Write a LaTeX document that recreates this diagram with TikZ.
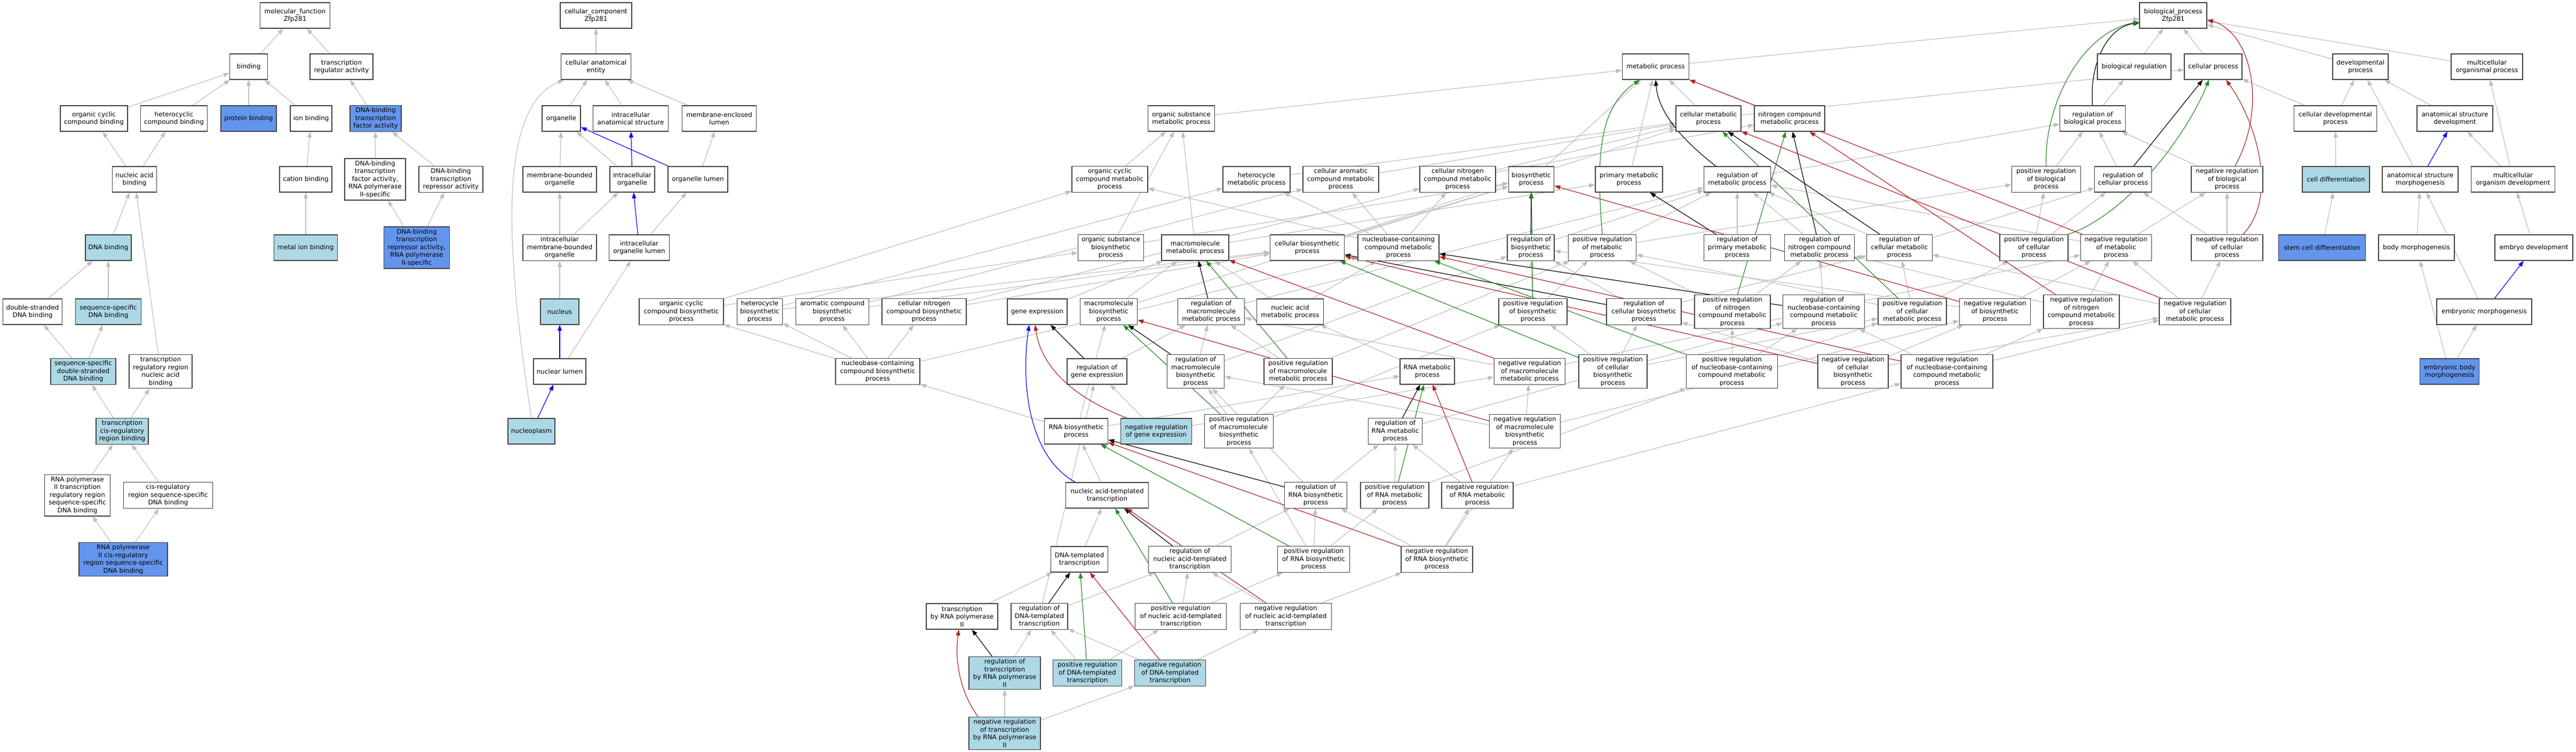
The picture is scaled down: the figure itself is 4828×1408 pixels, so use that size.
\documentclass[tikz,border=0pt]{standalone}
\usepackage{fontspec}
\setmainfont{DejaVu Sans}
\usetikzlibrary{arrows.meta,backgrounds}
\definecolor{lightblue}{HTML}{ADD8E6}
\definecolor{cornflower}{HTML}{6495ED}
\definecolor{edgegray}{HTML}{BEBEBE}
\definecolor{negred}{HTML}{B22222}
\definecolor{posgreen}{HTML}{228B22}
\newcommand{\gofont}{\fontsize{12}{14.5}\selectfont}
\newcommand{\gonode}[6]{\node[#1, minimum width=#5pt] (#2) at (#3,#4) {#6};}
\begin{document}
\begin{tikzpicture}[x=1pt,y=-1pt,
 go/.style={draw=black!75, line width=1.4pt, fill=white, align=center, font=\gofont, inner xsep=1pt, inner ysep=4pt, minimum height=48pt},
 lb/.style={go, fill=lightblue},
 cb/.style={go, fill=cornflower},
 edgebase/.style={line width=1.2pt, -{Triangle[length=11pt,width=8pt]}},
 gedge/.style={edgebase, draw=edgegray},
 bedge/.style={edgebase, draw=blue},
 kedge/.style={edgebase, draw=black},
 pedge/.style={edgebase, draw=posgreen},
 nedge/.style={edgebase, draw=negred}]
\useasboundingbox (0,0) rectangle (4828,1408);
% ---------------- molecular function ----------------
\gonode{go}{mf}{553}{29}{131}{molecular\_function\\Zfp281}
\gonode{go}{binding}{466}{125}{71}{binding}
\gonode{go}{tra}{640}{125}{118}{transcription\\regulator activity}
\gonode{go}{occb}{176}{222}{126}{organic cyclic\\compound binding}
\gonode{go}{hcb}{326}{222}{125}{heterocyclic\\compound binding}
\gonode{cb}{protb}{466}{222}{104}{protein binding}
\gonode{go}{ionb}{583}{222}{78}{ion binding}
\gonode{cb}{dbtfa}{704}{222}{96}{DNA-binding\\transcription\\factor activity}
\gonode{go}{nab}{252}{336}{83}{nucleic acid\\binding}
\gonode{go}{catb}{573}{336}{98}{cation binding}
\gonode{go}{dbtfa2}{703}{336}{114}{DNA-binding\\transcription\\factor activity,\\RNA polymerase\\II-specific}
\gonode{go}{dbtra}{845}{336}{120}{DNA-binding\\transcription\\repressor activity}
\gonode{lb}{dnab}{203}{464}{86}{DNA binding}
\gonode{lb}{mib}{573}{464}{119}{metal ion binding}
\gonode{cb}{dbtra2}{781}{464}{123}{DNA-binding\\transcription\\repressor activity,\\RNA polymerase\\II-specific}
\gonode{go}{dsdb}{61}{584}{111}{double-stranded\\DNA binding}
\gonode{lb}{ssdb}{203}{584}{123}{sequence-specific\\DNA binding}
\gonode{lb}{ssdsdb}{156}{696}{122}{sequence-specific\\double-stranded\\DNA binding}
\gonode{go}{trrnab}{301}{696}{118}{transcription\\regulatory region\\nucleic acid\\binding}
\gonode{lb}{tcrrb}{229}{808}{98}{transcription\\cis-regulatory\\region binding}
\gonode{go}{rptrr}{145}{928}{123}{RNA polymerase\\II transcription\\regulatory region\\sequence-specific\\DNA binding}
\gonode{go}{crrssdb}{315}{928}{167}{cis-regulatory\\region sequence-specific\\DNA binding}
\gonode{cb}{rpcrr}{231}{1048}{166}{RNA polymerase\\II cis-regulatory\\region sequence-specific\\DNA binding}
% ---------------- cellular component ----------------
\gonode{go}{cc}{1117}{29}{134}{cellular\_component\\Zfp281}
\gonode{go}{cae}{1117}{125}{131}{cellular anatomical\\entity}
\gonode{go}{org}{1052}{222}{72}{organelle}
\gonode{go}{ias}{1182}{222}{141}{intracellular\\anatomical structure}
\gonode{go}{mel}{1348}{222}{139}{membrane-enclosed\\lumen}
\gonode{go}{mbo}{1049}{336}{138}{membrane-bounded\\organelle}
\gonode{go}{io}{1185}{336}{84}{intracellular\\organelle}
\gonode{go}{ol}{1308}{336}{112}{organelle lumen}
\gonode{go}{imbo}{1049}{464}{138}{intracellular\\membrane-bounded\\organelle}
\gonode{go}{iol}{1198}{464}{113}{intracellular\\organelle lumen}
\gonode{lb}{nuc}{1049}{584}{72}{nucleus}
\gonode{go}{nl}{1049}{696}{98}{nuclear lumen}
\gonode{lb}{npl}{996}{808}{88}{nucleoplasm}
% ---------------- biological process ----------------
\gonode{go}{bp}{4073}{29}{126}{biological\_process\\Zfp281}
\gonode{go}{mp}{3103}{125}{125}{metabolic process}
\gonode{go}{breg}{4000}{125}{138}{biological regulation}
\gonode{go}{cp}{4148}{125}{108}{cellular process}
\gonode{go}{dp}{4424}{125}{104}{developmental\\process}
\gonode{go}{mop}{4661}{125}{134}{multicellular\\organismal process}
\gonode{go}{osmp}{2214}{222}{125}{organic substance\\metabolic process}
\gonode{go}{cmp}{3202}{222}{122}{cellular metabolic\\process}
\gonode{go}{ncmp}{3354}{222}{132}{nitrogen compound\\metabolic process}
\gonode{go}{rbp}{3922}{222}{123}{regulation of\\biological process}
\gonode{go}{cdp}{4377}{222}{155}{cellular developmental\\process}
\gonode{go}{asd}{4601}{222}{142}{anatomical structure\\development}
\gonode{go}{occmp}{2080}{336}{142}{organic cyclic\\compound metabolic\\process}
\gonode{go}{hmp}{2355}{336}{126}{heterocycle\\metabolic process}
\gonode{go}{camp}{2513}{336}{142}{cellular aromatic\\compound metabolic\\process}
\gonode{go}{cncmp}{2732}{336}{142}{cellular nitrogen\\compound metabolic\\process}
\gonode{go}{bsp}{2870}{336}{85}{biosynthetic\\process}
\gonode{go}{pmp}{3053}{336}{126}{primary metabolic\\process}
\gonode{go}{rmp}{3256}{336}{125}{regulation of\\metabolic process}
\gonode{go}{prbp}{3835}{336}{129}{positive regulation\\of biological\\process}
\gonode{go}{rcp}{3979}{336}{107}{regulation of\\cellular process}
\gonode{go}{nrbp}{4174}{336}{134}{negative regulation\\of biological\\process}
\gonode{lb}{celldiff}{4378}{336}{126}{cell differentiation}
\gonode{go}{asm}{4536}{336}{142}{anatomical structure\\morphogenesis}
\gonode{go}{mod}{4710}{336}{157}{multicellular\\organism development}
\gonode{go}{osbp}{2082}{464}{123}{organic substance\\biosynthetic\\process}
\gonode{go}{mmp}{2240}{464}{126}{macromolecule\\metabolic process}
\gonode{go}{cbp}{2450}{464}{139}{cellular biosynthetic\\process}
\gonode{go}{nbcmp}{2621}{464}{152}{nucleobase-containing\\compound metabolic\\process}
\gonode{go}{rbsp}{2869}{464}{88}{regulation of\\biosynthetic\\process}
\gonode{go}{prmp}{3003}{464}{127}{positive regulation\\of metabolic\\process}
\gonode{go}{rpmp}{3256}{464}{125}{regulation of\\primary metabolic\\process}
\gonode{go}{rncmp}{3410}{464}{131}{regulation of\\nitrogen compound\\metabolic process}
\gonode{go}{rcmp}{3560}{464}{123}{regulation of\\cellular metabolic\\process}
\gonode{go}{prcp}{3812}{464}{128}{positive regulation\\of cellular\\process}
\gonode{go}{nrmp}{3966}{464}{133}{negative regulation\\of metabolic\\process}
\gonode{go}{nrcp}{4174}{464}{134}{negative regulation\\of cellular\\process}
\gonode{cb}{scd}{4352}{464}{163}{stem cell differentiation}
\gonode{go}{bm}{4529}{464}{142}{body morphogenesis}
\gonode{go}{ed}{4749}{464}{146}{embryo development}
\gonode{go}{occbp}{1277}{584}{158}{organic cyclic\\compound biosynthetic\\process}
\gonode{go}{hbp}{1424}{584}{85}{heterocycle\\biosynthetic\\process}
\gonode{go}{acbp}{1560}{584}{137}{aromatic compound\\biosynthetic\\process}
\gonode{go}{cncbp}{1732}{584}{158}{cellular nitrogen\\compound biosynthetic\\process}
\gonode{go}{gexp}{1944}{584}{112}{gene expression}
\gonode{go}{mbp}{2078}{584}{107}{macromolecule\\biosynthetic\\process}
\gonode{go}{rmmp}{2270}{584}{125}{regulation of\\macromolecule\\metabolic process}
\gonode{go}{nacmp}{2418}{584}{125}{nucleic acid\\metabolic process}
\gonode{go}{prbsp}{2873}{584}{128}{positive regulation\\of biosynthetic\\process}
\gonode{go}{rcbp}{3081}{584}{140}{regulation of\\cellular biosynthetic\\process}
\gonode{go}{prncmp}{3247}{584}{142}{positive regulation\\of nitrogen\\compound metabolic\\process}
\gonode{go}{rnbcmp}{3418}{584}{153}{regulation of\\nucleobase-containing\\compound metabolic\\process}
\gonode{go}{prcmp}{3584}{584}{128}{positive regulation\\of cellular\\metabolic process}
\gonode{go}{nrbsp}{3739}{584}{133}{negative regulation\\of biosynthetic\\process}
\gonode{go}{nrncmp}{3901}{584}{142}{negative regulation\\of nitrogen\\compound metabolic\\process}
\gonode{go}{nrcmp}{4114}{584}{134}{negative regulation\\of cellular\\metabolic process}
\gonode{go}{em}{4656}{584}{178}{embryonic morphogenesis}
\gonode{go}{nbcbp}{1645}{696}{158}{nucleobase-containing\\compound biosynthetic\\process}
\gonode{go}{rge}{2056}{696}{112}{regulation of\\gene expression}
\gonode{go}{rmbp}{2241}{696}{107}{regulation of\\macromolecule\\biosynthetic\\process}
\gonode{go}{prmmp}{2433}{696}{128}{positive regulation\\of macromolecule\\metabolic process}
\gonode{go}{rnamp}{2675}{696}{102}{RNA metabolic\\process}
\gonode{go}{nrmmp}{2867}{696}{133}{negative regulation\\of macromolecule\\metabolic process}
\gonode{go}{prcbp}{3023}{696}{128}{positive regulation\\of cellular\\biosynthetic\\process}
\gonode{go}{prnbcmp}{3246}{696}{171}{positive regulation\\of nucleobase-containing\\compound metabolic\\process}
\gonode{go}{nrcbp}{3473}{696}{132}{negative regulation\\of cellular\\biosynthetic\\process}
\gonode{go}{nrnbcmp}{3649}{696}{172}{negative regulation\\of nucleobase-containing\\compound metabolic\\process}
\gonode{cb}{ebm}{4591}{696}{111}{embryonic body\\morphogenesis}
\gonode{go}{rnabp}{2017}{808}{119}{RNA biosynthetic\\process}
\gonode{lb}{nrge}{2167}{808}{133}{negative regulation\\of gene expression}
\gonode{go}{prmbp}{2322}{808}{129}{positive regulation\\of macromolecule\\biosynthetic\\process}
\gonode{go}{rrnamp}{2615}{808}{101}{regulation of\\RNA metabolic\\process}
\gonode{go}{nrmbp}{2858}{808}{133}{negative regulation\\of macromolecule\\biosynthetic\\process}
\gonode{go}{nat}{2075}{928}{155}{nucleic acid-templated\\transcription}
\gonode{go}{rrnabp}{2466}{928}{117}{regulation of\\RNA biosynthetic\\process}
\gonode{go}{prrnamp}{2614}{928}{128}{positive regulation\\of RNA metabolic\\process}
\gonode{go}{nrrnamp}{2769}{928}{134}{negative regulation\\of RNA metabolic\\process}
\gonode{go}{dtt}{2023}{1048}{107}{DNA-templated\\transcription}
\gonode{go}{rnatt}{2230}{1048}{155}{regulation of\\nucleic acid-templated\\transcription}
\gonode{go}{prrnabp}{2462}{1048}{135}{positive regulation\\of RNA biosynthetic\\process}
\gonode{go}{nrrnabp}{2693}{1048}{134}{negative regulation\\of RNA biosynthetic\\process}
\gonode{go}{trp}{1803}{1155}{134}{transcription\\by RNA polymerase\\II}
\gonode{go}{rdtt}{1948}{1155}{106}{regulation of\\DNA-templated\\transcription}
\gonode{go}{prnatt}{2213}{1155}{171}{positive regulation\\of nucleic acid-templated\\transcription}
\gonode{go}{nrnatt}{2410}{1155}{171}{negative regulation\\of nucleic acid-templated\\transcription}
\gonode{lb}{rtrp}{1883}{1261}{134}{regulation of\\transcription\\by RNA polymerase\\II}
\gonode{lb}{prdtt}{2038}{1261}{129}{positive regulation\\of DNA-templated\\transcription}
\gonode{lb}{nrdtt}{2193}{1261}{133}{negative regulation\\of DNA-templated\\transcription}
\gonode{lb}{nrtrp}{1883}{1374}{134}{negative regulation\\of transcription\\by RNA polymerase\\II}
% ---------------- edges ----------------
\begin{pgfonlayer}{background}
\fill[white] (0,0) rectangle (4828,1408);
\foreach \a/\b in {binding/mf, tra/mf, occb/binding, hcb/binding, protb/binding, ionb/binding, dbtfa/tra,
  nab/occb, nab/hcb, catb/ionb, dbtfa2/dbtfa, dbtra/dbtfa, dnab/nab, mib/catb, dbtra2/dbtfa2, dbtra2/dbtra,
  dsdb/dnab, ssdb/dnab, ssdsdb/dsdb, ssdsdb/ssdb, trrnab/nab, tcrrb/ssdsdb, tcrrb/trrnab, rptrr/tcrrb,
  crrssdb/tcrrb, rpcrr/rptrr, rpcrr/crrssdb,
  cae/cc, org/cae, ias/cae, mel/cae, mbo/org, io/org, ol/mel, imbo/mbo, imbo/io, iol/ol, nuc/imbo, nl/iol,
  mp/bp, breg/bp, cp/bp, dp/bp, mop/bp,
  osmp/mp, cmp/mp, cmp/cp, ncmp/mp, rbp/breg, cdp/cp, cdp/dp, asd/dp,
  occmp/osmp, hmp/cmp, camp/cmp, cncmp/cmp, cncmp/ncmp, bsp/mp, pmp/mp, rmp/rbp, prbp/rbp, rcp/rbp, nrbp/rbp,
  celldiff/cdp, asm/dp, mod/mop, mod/asd,
  osbp/osmp, osbp/bsp, mmp/osmp, mmp/pmp, cbp/cmp, cbp/bsp, nbcmp/hmp, nbcmp/camp, nbcmp/occmp, nbcmp/cncmp,
  rbsp/rmp, prmp/rmp, prmp/prbp, rpmp/rmp, rncmp/rmp, rcmp/rmp, rcmp/rcp, prcp/prbp, prcp/rcp,
  nrmp/rmp, nrmp/nrbp, nrcp/nrbp, nrcp/rcp, scd/celldiff, bm/asm, ed/mod,
  occbp/occmp, occbp/osbp, hbp/hmp, hbp/cbp, acbp/camp, acbp/cbp, cncbp/cncmp, cncbp/cbp,
  gexp/mmp, mbp/mmp, mbp/bsp, rmmp/rmp, nacmp/mmp, nacmp/nbcmp, prbsp/rbsp, prbsp/prmp, rcbp/rbsp, rcbp/rcmp,
  prncmp/rncmp, prncmp/prmp, rnbcmp/rncmp, prcmp/rcmp, prcmp/prmp, prcmp/prcp, nrbsp/rbsp, nrbsp/nrmp,
  nrncmp/rncmp, nrncmp/nrmp, nrcmp/rcmp, nrcmp/nrmp, nrcmp/nrcp, em/asm,
  nbcbp/occbp, nbcbp/hbp, nbcbp/acbp, nbcbp/cncbp, nbcbp/nbcmp, rge/rmmp, rmbp/rmmp, rmbp/rbsp,
  prmmp/rmmp, prmmp/prmp, rnamp/nacmp, nrmmp/rmmp, nrmmp/nrmp, prcbp/rcbp, prcbp/prbsp, prcbp/prcmp,
  prnbcmp/rnbcmp, prnbcmp/prncmp, prnbcmp/prcmp, nrcbp/rcbp, nrcbp/nrbsp, nrcbp/nrcmp,
  nrnbcmp/rnbcmp, nrnbcmp/nrncmp, nrnbcmp/nrcmp, ebm/bm, ebm/em,
  rnabp/rnamp, rnabp/nbcbp, rnabp/mbp, nrge/rge, nrge/nrmmp, prmbp/rmbp, prmbp/prmmp, prmbp/prbsp,
  rrnamp/rnbcmp, nrmbp/rmbp, nrmbp/nrmmp, nrmbp/nrbsp,
  nat/rnabp, rrnabp/rrnamp, rrnabp/rmbp, prrnamp/rrnamp, prrnamp/prnbcmp, nrrnamp/rrnamp, nrrnamp/nrnbcmp,
  dtt/nat, rnatt/rrnabp, prrnabp/rrnabp, prrnabp/prrnamp, prrnabp/prmbp, nrrnabp/rrnabp, nrrnabp/nrrnamp, nrrnabp/nrmbp,
  trp/dtt, rdtt/rnatt, rdtt/rge, prnatt/rnatt, prnatt/prrnabp, nrnatt/rnatt, nrnatt/nrrnabp,
  rtrp/rdtt, prdtt/rdtt, prdtt/prnatt, nrdtt/rdtt, nrdtt/nrnatt, nrtrp/rtrp, nrtrp/nrdtt}
  {\draw[gedge] (\a) -- (\b);}
\draw[gedge] (npl.north) .. controls (945,450) and (935,200) .. ([xshift=6pt]cae.south west);
\foreach \a/\b in {npl/nl, nl/nuc, iol/io, io/ias, ol/org, asm/asd, em/ed}
  {\draw[bedge] (\a) -- (\b);}
\draw[bedge] ([xshift=-60pt]nat.north) .. controls (1920,850) and (1915,700) .. ([xshift=-15pt]gexp.south);
\foreach \a/\b in {rcp/cp, rbsp/bsp, rpmp/pmp, rncmp/ncmp, rcmp/cmp, rmmp/mmp, rcbp/cbp,
  rnbcmp/nbcmp, rge/gexp, rmbp/mbp, rrnamp/rnamp, rrnabp/rnabp, rnatt/nat, rdtt/dtt, rtrp/trp}
  {\draw[kedge] (\a) -- (\b);}
\draw[kedge] (rbp.north) .. controls (3915,120) and (3950,50) .. ([yshift=-14pt]bp.west);
\draw[kedge] ([xshift=-40pt]rmp.north) .. controls (3150,260) and (3108,210) .. (mp.south);
\foreach \a/\b in {prbsp/bsp, prncmp/ncmp, prcmp/cmp, prmmp/mmp, prcbp/cbp,
  prnbcmp/nbcmp, prmbp/mbp, prrnamp/rnamp, prrnabp/rnabp, prnatt/nat, prdtt/dtt}
  {\draw[pedge] (\a) -- (\b);}
\draw[pedge] (prbp.north) .. controls (3830,200) and (3900,60) .. ([yshift=-12pt]bp.west);
\draw[pedge] (prcp.north east) .. controls (3990,400) and (4100,250) .. ([xshift=-8pt]cp.south);
\draw[pedge] (prmp.north) .. controls (2990,280) and (3000,200) .. ([xshift=-30pt]mp.south);
\foreach \a/\b in {nrmp/mp, nrbsp/bsp, nrncmp/ncmp, nrcmp/cmp, nrmmp/mmp, nrcbp/cbp,
  nrnbcmp/nbcmp, nrmbp/mbp, nrrnamp/rnamp, nrrnabp/rnabp, nrnatt/nat, nrdtt/dtt}
  {\draw[nedge] (\a) -- (\b);}
\draw[nedge] ([xshift=15pt]nrbp.north) .. controls (4250,200) and (4220,60) .. ([yshift=-8pt]bp.east);
\draw[nedge] ([xshift=30pt]nrcp.north) .. controls (4270,370) and (4230,230) .. ([xshift=24pt]cp.south);
\draw[nedge] ([xshift=-55pt]nrge.north) .. controls (2000,740) and (1950,680) .. ([xshift=-4pt]gexp.south);
\draw[nedge] ([xshift=-50pt]nrtrp.north) .. controls (1795,1290) and (1790,1230) .. ([xshift=-6pt]trp.south);
\end{pgfonlayer}
\end{tikzpicture}
\end{document}
